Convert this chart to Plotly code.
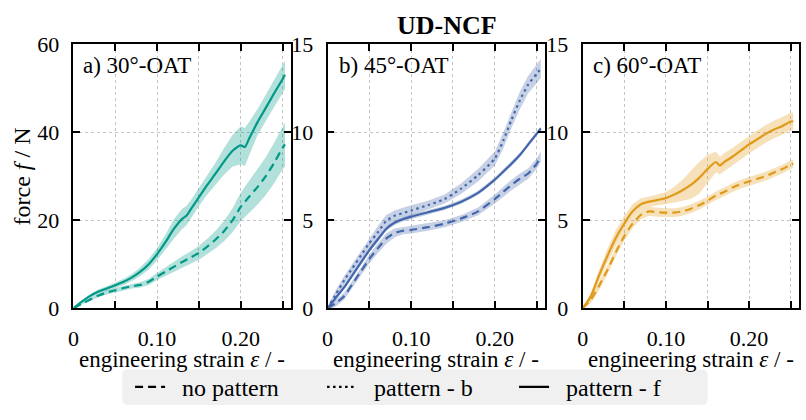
import plotly.graph_objects as go
from plotly.subplots import make_subplots

# ---------------- data ----------------
# a) 30°-OAT
strain_a_f = [0, 0.01, 0.02, 0.03, 0.04, 0.05, 0.06, 0.07, 0.08, 0.09, 0.10, 0.11, 0.12, 0.13,
              0.135, 0.14, 0.15, 0.16, 0.17, 0.18, 0.19, 0.20, 0.205, 0.21, 0.22, 0.23, 0.24, 0.25, 0.253]
force_a_f = [0, 1.5, 2.8, 3.8, 4.5, 5.2, 6.0, 7.0, 8.3, 10.0, 12.3, 15.0, 18.0, 20.3,
             21.0, 22.4, 25.2, 28.0, 30.6, 33.3, 35.7, 37.0, 36.6, 38.5, 42.2, 45.5, 48.8, 52.0, 53.0]
spread_a_f = [0, 0.3, 0.4, 0.5, 0.5, 0.6, 0.7, 0.8, 1.0, 1.2, 1.4, 1.7, 2.2, 2.3,
              2.2, 2.0, 2.0, 2.2, 2.5, 3.0, 3.6, 4.3, 4.3, 3.8, 3.0, 3.0, 3.1, 3.2, 3.2]

strain_a_n = [0, 0.01, 0.02, 0.03, 0.04, 0.05, 0.06, 0.07, 0.08, 0.09, 0.10, 0.11, 0.12, 0.13,
              0.14, 0.15, 0.16, 0.17, 0.18, 0.19, 0.20, 0.21, 0.22, 0.23, 0.24, 0.25, 0.253]
force_a_n = [0, 1.0, 2.0, 2.9, 3.6, 4.1, 4.6, 5.0, 5.3, 6.0, 7.2, 8.3, 9.4, 10.5,
             11.5, 12.6, 14.0, 15.6, 17.5, 19.9, 23.0, 25.3, 27.5, 30.0, 33.0, 36.4, 37.2]
spread_a_n = [0, 0.2, 0.3, 0.4, 0.5, 0.5, 0.5, 0.5, 0.6, 0.7, 0.8, 1.0, 1.2, 1.3,
              1.4, 1.6, 1.8, 2.0, 2.3, 2.7, 3.2, 3.6, 4.0, 4.3, 4.6, 4.9, 5.0]

# b) 45°-OAT
strain_b = [0, 0.01, 0.02, 0.03, 0.04, 0.05, 0.06, 0.07, 0.08, 0.09, 0.10, 0.12, 0.14,
            0.16, 0.18, 0.20, 0.21, 0.22, 0.23, 0.24, 0.25, 0.255]
force_b_f = [0, 0.6, 1.2, 1.9, 2.6, 3.3, 3.9, 4.5, 4.85, 5.05, 5.2, 5.45, 5.7,
             6.05, 6.55, 7.3, 7.75, 8.2, 8.7, 9.3, 9.9, 10.2]
spread_b_f = [0, 0.1, 0.12, 0.12, 0.12, 0.12, 0.12, 0.12, 0.12, 0.12, 0.12, 0.12, 0.12,
              0.12, 0.12, 0.12, 0.12, 0.12, 0.12, 0.12, 0.12, 0.12]
force_b_b = [0, 0.8, 1.6, 2.3, 3.0, 3.7, 4.3, 4.95, 5.25, 5.4, 5.55, 5.85, 6.2,
             6.8, 7.55, 8.5, 9.5, 10.7, 11.8, 12.7, 13.3, 13.6]
spread_b_b = [0.1, 0.25, 0.25, 0.25, 0.3, 0.3, 0.35, 0.35, 0.3, 0.3, 0.3, 0.25, 0.25,
              0.3, 0.35, 0.4, 0.45, 0.45, 0.5, 0.5, 0.55, 0.55]
force_b_n = [0, 0.3, 0.7, 1.4, 2.1, 2.8, 3.4, 3.95, 4.27, 4.4, 4.45, 4.6, 4.8,
             5.1, 5.5, 6.2, 6.6, 7.0, 7.35, 7.65, 8.2, 8.6]
spread_b_n = [0.1, 0.2, 0.2, 0.2, 0.22, 0.25, 0.28, 0.3, 0.25, 0.2, 0.2, 0.2, 0.2,
              0.2, 0.22, 0.25, 0.28, 0.3, 0.3, 0.3, 0.3, 0.3]

# c) 60°-OAT
strain_c = [0, 0.01, 0.02, 0.03, 0.04, 0.05, 0.06, 0.07, 0.08, 0.09, 0.10, 0.11, 0.12, 0.13,
            0.14, 0.15, 0.16, 0.165, 0.17, 0.18, 0.19, 0.20, 0.21, 0.22, 0.23, 0.24, 0.25, 0.253]
force_c_f = [0, 0.7, 1.9, 3.0, 4.0, 4.8, 5.5, 5.9, 6.05, 6.15, 6.25, 6.45, 6.7, 7.0,
             7.4, 7.9, 8.3, 8.1, 8.3, 8.6, 8.95, 9.3, 9.6, 9.9, 10.15, 10.35, 10.6, 10.6]
spread_c_f = [0, 0.2, 0.3, 0.4, 0.45, 0.45, 0.4, 0.35, 0.3, 0.3, 0.35, 0.45, 0.6, 0.8,
              0.9, 0.8, 0.6, 0.5, 0.5, 0.5, 0.5, 0.5, 0.5, 0.5, 0.5, 0.5, 0.5, 0.5]
force_c_n = [0, 0.5, 1.3, 2.2, 3.2, 4.1, 4.8, 5.3, 5.5, 5.45, 5.43, 5.43, 5.5, 5.65,
             5.85, 6.1, 6.4, 6.5, 6.6, 6.85, 7.05, 7.2, 7.35, 7.5, 7.7, 7.9, 8.15, 8.2]
spread_c_n = [0.05, 0.2, 0.25, 0.25, 0.25, 0.25, 0.25, 0.25, 0.25, 0.25, 0.25, 0.25, 0.25, 0.25,
              0.25, 0.25, 0.25, 0.25, 0.25, 0.25, 0.25, 0.25, 0.25, 0.25, 0.25, 0.25, 0.25, 0.25]

panel_titles = ["a) 30°-OAT", "b) 45°-OAT", "c) 60°-OAT"]
y_ranges = [[0, 60], [0, 15], [0, 15]]
y_ticks = [[0, 20, 40, 60], [0, 5, 10, 15], [0, 5, 10, 15]]
x_tickvals = [0, 0.05, 0.10, 0.15, 0.20, 0.25]
x_ticktext = ["0", "", "0.10", "", "0.20", ""]
legend_names = ["no pattern", "pattern - b", "pattern - f"]

# ---------------- style ----------------
W, H = 806, 420
FONT = "Liberation Serif, Times New Roman, serif"
TEAL, BLUE, ORANGE = "#009988", "#4466aa", "#e09b1b"
DASH = {"no pattern": "8px,5px", "pattern - b": "2.5px,3.5px", "pattern - f": "solid"}


def rgba(hex_color, a):
    h = hex_color.lstrip("#")
    r, g, b = int(h[0:2], 16), int(h[2:4], 16), int(h[4:6], 16)
    return f"rgba({r},{g},{b},{a})"


fig = make_subplots(rows=1, cols=3)

x_domains = [(68 / W, 287 / W), (324 / W, 543 / W), (581 / W, 799 / W)]
y_domain = (1 - 315 / H, 1 - 34 / H)


def add_series(col, x, y, spread, color, kind):
    lo = [v - s for v, s in zip(y, spread)]
    hi = [v + s for v, s in zip(y, spread)]
    fig.add_trace(go.Scatter(
        x=list(x) + list(x)[::-1], y=hi + lo[::-1], fill="toself",
        fillcolor=rgba(color, 0.3), line=dict(width=0), mode="lines",
        showlegend=False, hoverinfo="skip"), row=1, col=col)
    fig.add_trace(go.Scatter(
        x=x, y=y, mode="lines",
        line=dict(color=color, width=2.2, dash=DASH[kind], shape="spline", smoothing=0.6),
        showlegend=False, name=kind), row=1, col=col)


add_series(1, strain_a_n, force_a_n, spread_a_n, TEAL, "no pattern")
add_series(1, strain_a_f, force_a_f, spread_a_f, TEAL, "pattern - f")

add_series(2, strain_b, force_b_n, spread_b_n, BLUE, "no pattern")
add_series(2, strain_b, force_b_b, spread_b_b, BLUE, "pattern - b")
add_series(2, strain_b, force_b_f, spread_b_f, BLUE, "pattern - f")

add_series(3, strain_c, force_c_n, spread_c_n, ORANGE, "no pattern")
add_series(3, strain_c, force_c_f, spread_c_f, ORANGE, "pattern - f")

# legend entries (black line samples); leading no-break spaces widen the gap to the sample
for name in legend_names:
    fig.add_trace(go.Scatter(x=[None], y=[None], mode="lines", name="\u00a0\u00a0" + name,
                             line=dict(color="black", width=2.2, dash=DASH[name])),
                  row=1, col=1)

axis_common = dict(
    showline=True, linecolor="black", linewidth=1.8, mirror="ticks",
    ticks="inside", ticklen=7, tickwidth=1.6, tickcolor="black",
    showgrid=True, gridcolor="#c4c4c4", gridwidth=1, griddash="dot",
    zeroline=False, tickfont=dict(family=FONT, size=22, color="black"),
)

for i in range(3):
    fig.update_xaxes(domain=list(x_domains[i]), range=[0, 0.26],
                     tickvals=x_tickvals, ticktext=x_ticktext, ticklabelstandoff=9,
                     row=1, col=i + 1, **axis_common)
    fig.update_yaxes(domain=list(y_domain), range=y_ranges[i], tickvals=y_ticks[i],
                     ticklabelstandoff=8, row=1, col=i + 1, **axis_common)

annotations = []
label_x = [76, 333, 589]
for i in range(3):
    annotations.append(dict(
        text=panel_titles[i], x=label_x[i] / W, y=1 - 57 / H, xref="paper", yref="paper",
        xanchor="left", yanchor="middle", showarrow=False,
        font=dict(family=FONT, size=23, color="black")))
    cx = (x_domains[i][0] + x_domains[i][1]) / 2
    annotations.append(dict(
        text="engineering strain <i>ε</i> / -", x=cx, y=1 - 369 / H, xref="paper", yref="paper",
        xanchor="center", yanchor="middle", showarrow=False,
        font=dict(family=FONT, size=23, color="black")))

annotations.append(dict(
    text="force <i>f</i> / N", x=16 / W, y=1 - 175 / H, xref="paper", yref="paper",
    xanchor="center", yanchor="middle", textangle=-90, showarrow=False,
    font=dict(family=FONT, size=24, color="black")))
annotations.append(dict(
    text="<b>UD-NCF</b>", x=444 / W, y=1 - 14 / H, xref="paper", yref="paper",
    xanchor="center", yanchor="middle", showarrow=False,
    font=dict(family=FONT, size=26, color="black")))

# rounded legend frame
x0, x1, y0, y1, r = 117 / W, 707 / W, 1 - 418 / H, 1 - 380 / H, 6
rx, ry = r / W, r / H
legend_box = (f"M {x0 + rx},{y0} L {x1 - rx},{y0} Q {x1},{y0} {x1},{y0 + ry} "
              f"L {x1},{y1 - ry} Q {x1},{y1} {x1 - rx},{y1} L {x0 + rx},{y1} "
              f"Q {x0},{y1} {x0},{y1 - ry} L {x0},{y0 + ry} Q {x0},{y0} {x0 + rx},{y0} Z")

fig.update_layout(
    width=W, height=H, margin=dict(l=0, r=0, t=0, b=0),
    paper_bgcolor="white", plot_bgcolor="white",
    font=dict(family=FONT, color="black"),
    annotations=annotations,
    shapes=[dict(type="path", path=legend_box, xref="paper", yref="paper",
                 fillcolor="#f0f0f0", line=dict(width=0), layer="below")],
    legend=dict(orientation="h", x=125 / W, y=1 - 399 / H, xanchor="left", yanchor="middle",
                bgcolor="rgba(0,0,0,0)", font=dict(family=FONT, size=24, color="black"),
                entrywidth=147, entrywidthmode="pixels", itemwidth=30),
)

fig.write_html("out.html")
